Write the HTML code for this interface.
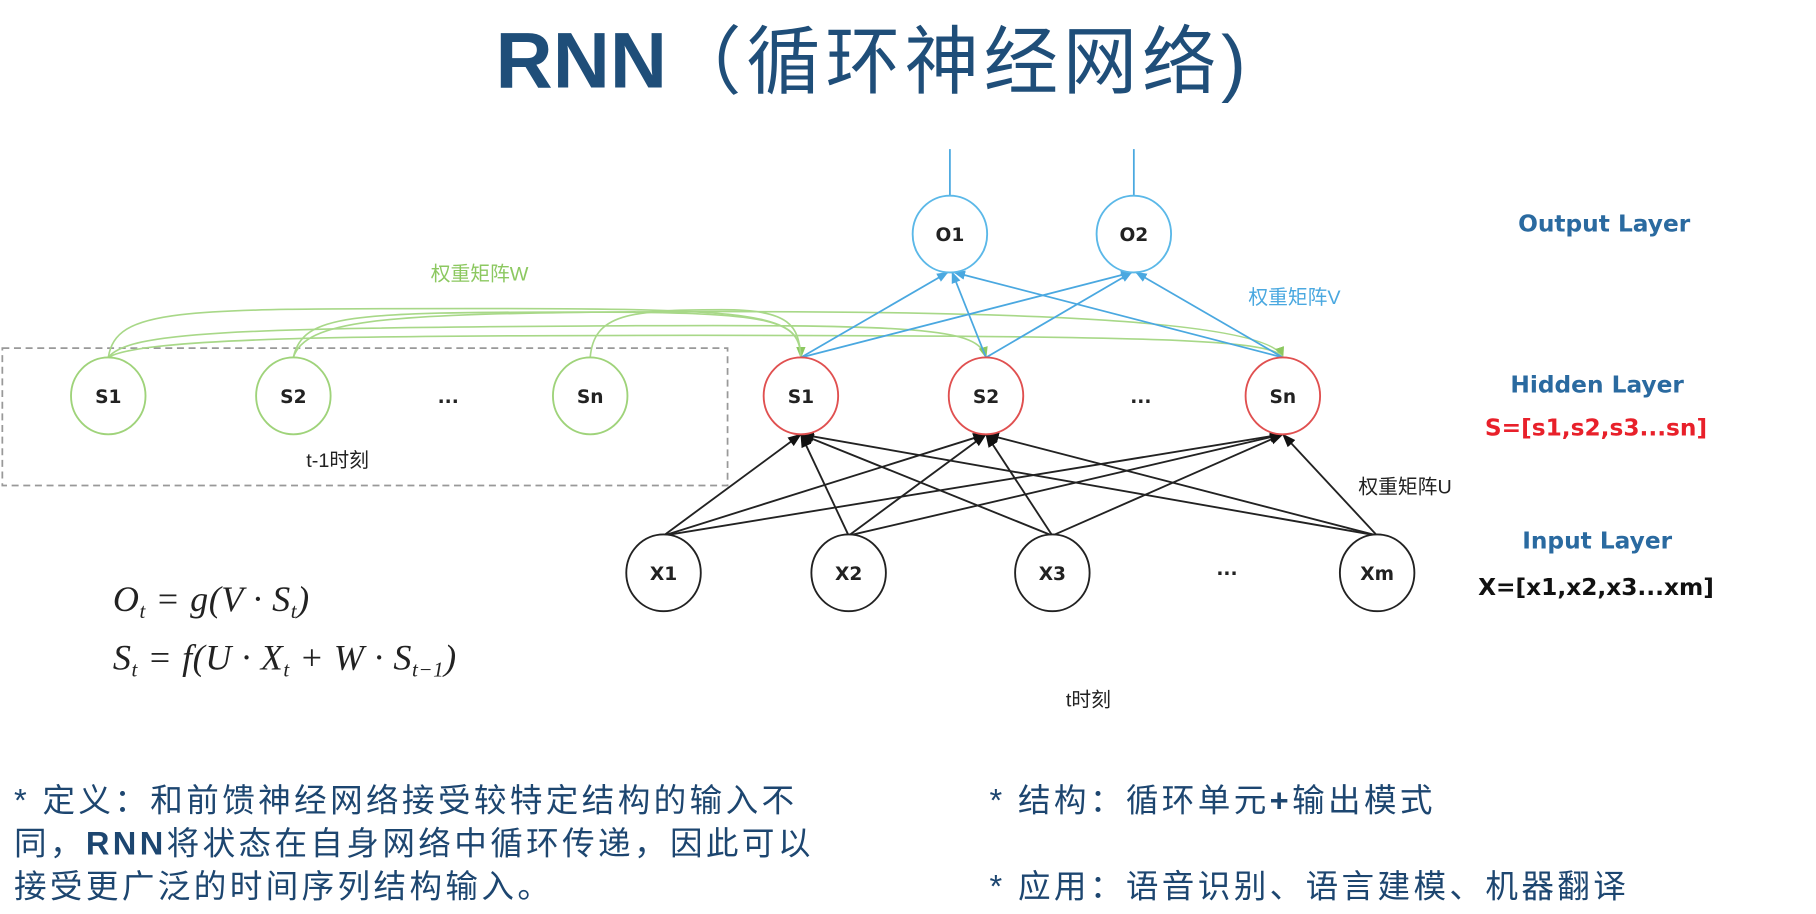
<!DOCTYPE html>
<html><head><meta charset="utf-8"><style>
html,body{margin:0;padding:0;background:#fff;width:1816px;height:914px;overflow:hidden}
svg{display:block}
.n{font-family:"DejaVu Sans","Noto Sans CJK SC",sans-serif;font-weight:bold;font-size:16px;text-anchor:middle;fill:#222}
.cj{font-family:"Liberation Sans","Noto Sans CJK SC",sans-serif}
.lay{font-family:"DejaVu Sans",sans-serif;font-weight:bold;font-size:20px;fill:#2a6aa0;text-anchor:middle}
.f{font-family:"Liberation Serif",serif;font-style:italic;font-size:31px;fill:#222;letter-spacing:0.5px}
.b{font-family:"Liberation Sans","Noto Sans CJK SC",sans-serif;font-size:28px;fill:#1d4670;letter-spacing:2.9px}
</style></head><body>
<svg width="1816" height="914" viewBox="0 0 1560 785" xmlns="http://www.w3.org/2000/svg">
<defs>
<marker id="ak" markerWidth="12" markerHeight="10" refX="11" refY="5" orient="auto" markerUnits="userSpaceOnUse"><path d="M0,0.5 L12,5 L0,9.5 z" fill="#111"/></marker>
<marker id="ab" markerWidth="10" markerHeight="10" refX="9" refY="5" orient="auto" markerUnits="userSpaceOnUse"><path d="M0,1 L10,5 L0,9 z" fill="#4aa8e0"/></marker>
<marker id="ag" markerWidth="10" markerHeight="10" refX="9" refY="5" orient="auto" markerUnits="userSpaceOnUse"><path d="M0,1 L10,5 L0,9 z" fill="#8cc860"/></marker>
</defs>
<text x="750" y="75" text-anchor="middle" fill="#1f4e79" class="cj"><tspan font-weight="bold" font-size="68">RNN</tspan><tspan font-size="64" letter-spacing="4">（循环神经网络)</tspan></text>

<rect x="2" y="299" width="623" height="118" fill="none" stroke="#999" stroke-width="1.5" stroke-dasharray="6,4"/>
<text x="290" y="401" class="cj" font-size="17" text-anchor="middle" fill="#222">t-1时刻</text>

<g fill="none" stroke="#a8d888" stroke-width="1.4">
<path d="M93,307 C100,265 150,265 400,265 C650,265 688,268 688,307" marker-end="url(#ag)"/>
<path d="M93,307 C110,285 200,282 500,280 C800,278 840,282 847,307" marker-end="url(#ag)"/>
<path d="M252,307 C260,270 300,268 500,268 C670,268 686,275 688,307"/>
<path d="M252,307 C262,275 330,270 520,268 C800,266 1090,270 1102,307" marker-end="url(#ag)"/>
<path d="M507,307 C510,270 540,266 620,266 C680,266 686,280 688,307"/>
<path d="M93,307 C120,290 300,288 600,288 C1000,288 1095,292 1102,307"/>
</g>
<text x="412" y="241" class="cj" font-size="17" text-anchor="middle" fill="#8cc860">权重矩阵W</text>
<text x="1112" y="261" class="cj" font-size="17" text-anchor="middle" fill="#4aa8e0">权重矩阵V</text>
<text x="1207" y="424" class="cj" font-size="17" text-anchor="middle" fill="#222">权重矩阵U</text>

<g stroke="#4aa8e0" stroke-width="1.5">
<line x1="816" y1="128" x2="816" y2="168"/><line x1="974" y1="128" x2="974" y2="168"/>
<line x1="688" y1="307" x2="814" y2="234" marker-end="url(#ab)"/>
<line x1="688" y1="307" x2="972" y2="234" marker-end="url(#ab)"/>
<line x1="847" y1="307" x2="818" y2="234" marker-end="url(#ab)"/>
<line x1="847" y1="307" x2="972" y2="234" marker-end="url(#ab)"/>
<line x1="1102" y1="307" x2="820" y2="234" marker-end="url(#ab)"/>
<line x1="1102" y1="307" x2="976" y2="234" marker-end="url(#ab)"/>
</g>

<g stroke="#222" stroke-width="1.6">
<line x1="570" y1="460" x2="688" y2="373" marker-end="url(#ak)"/>
<line x1="570" y1="460" x2="847" y2="373" marker-end="url(#ak)"/>
<line x1="570" y1="460" x2="1102" y2="373" marker-end="url(#ak)"/>
<line x1="729" y1="460" x2="688" y2="373" marker-end="url(#ak)"/>
<line x1="729" y1="460" x2="847" y2="373" marker-end="url(#ak)"/>
<line x1="729" y1="460" x2="1102" y2="373" marker-end="url(#ak)"/>
<line x1="904" y1="460" x2="688" y2="373" marker-end="url(#ak)"/>
<line x1="904" y1="460" x2="847" y2="373" marker-end="url(#ak)"/>
<line x1="904" y1="460" x2="1102" y2="373" marker-end="url(#ak)"/>
<line x1="1183" y1="460" x2="688" y2="373" marker-end="url(#ak)"/>
<line x1="1183" y1="460" x2="847" y2="373" marker-end="url(#ak)"/>
<line x1="1183" y1="460" x2="1102" y2="373" marker-end="url(#ak)"/>
</g>

<g fill="#fff" stroke-width="1.6">
<ellipse cx="93" cy="340" rx="32" ry="33" stroke="#9fd37a"/>
<ellipse cx="252" cy="340" rx="32" ry="33" stroke="#9fd37a"/>
<ellipse cx="507" cy="340" rx="32" ry="33" stroke="#9fd37a"/>
<ellipse cx="688" cy="340" rx="32" ry="33" stroke="#e05050"/>
<ellipse cx="847" cy="340" rx="32" ry="33" stroke="#e05050"/>
<ellipse cx="1102" cy="340" rx="32" ry="33" stroke="#e05050"/>
<ellipse cx="816" cy="201" rx="32" ry="33" stroke="#5bb8e8"/>
<ellipse cx="974" cy="201" rx="32" ry="33" stroke="#5bb8e8"/>
<ellipse cx="570" cy="492" rx="32" ry="33" stroke="#222"/>
<ellipse cx="729" cy="492" rx="32" ry="33" stroke="#222"/>
<ellipse cx="904" cy="492" rx="32" ry="33" stroke="#222"/>
<ellipse cx="1183" cy="492" rx="32" ry="33" stroke="#222"/>
</g>
<g>
<text x="93" y="346" class="n">S1</text><text x="252" y="346" class="n">S2</text><text x="385" y="346" class="n">...</text><text x="507" y="346" class="n">Sn</text>
<text x="688" y="346" class="n">S1</text><text x="847" y="346" class="n">S2</text><text x="980" y="346" class="n">...</text><text x="1102" y="346" class="n">Sn</text>
<text x="816" y="207" class="n">O1</text><text x="974" y="207" class="n">O2</text>
<text x="570" y="498" class="n">X1</text><text x="729" y="498" class="n">X2</text><text x="904" y="498" class="n">X3</text><text x="1054" y="494" class="n">...</text><text x="1183" y="498" class="n">Xm</text>
</g>

<text x="1378" y="199" class="lay">Output Layer</text>
<text x="1372" y="337" class="lay">Hidden Layer</text>
<text x="1371" y="374" class="lay" style="fill:#e8202a">S=[s1,s2,s3...sn]</text>
<text x="1372" y="471" class="lay">Input Layer</text>
<text x="1371" y="511" class="lay" style="fill:#111">X=[x1,x2,x3...xm]</text>

<text x="97" y="525" class="f">O<tspan font-size="18" dy="6">t</tspan><tspan dy="-6"> = g(V · S</tspan><tspan font-size="18" dy="6">t</tspan><tspan dy="-6">)</tspan></text>
<text x="97" y="575" class="f">S<tspan font-size="18" dy="6">t</tspan><tspan dy="-6"> = f(U · X</tspan><tspan font-size="18" dy="6">t</tspan><tspan dy="-6"> + W · S</tspan><tspan font-size="18" dy="6">t−1</tspan><tspan dy="-6">)</tspan></text>

<text x="935" y="607" class="cj" font-size="17" text-anchor="middle" fill="#222">t时刻</text>

<text x="12" y="697" class="b">* 定义：和前馈神经网络接受较特定结构的输入不</text>
<text x="12" y="734" class="b">同，<tspan font-weight="bold">RNN</tspan>将状态在自身网络中循环传递，因此可以</text>
<text x="12" y="771" class="b">接受更广泛的时间序列结构输入。</text>
<text x="850" y="697" class="b">* 结构：循环单元<tspan font-weight="bold">+</tspan>输出模式</text>
<text x="850" y="771" class="b">* 应用：语音识别、语言建模、机器翻译</text>
</svg>
</body></html>
